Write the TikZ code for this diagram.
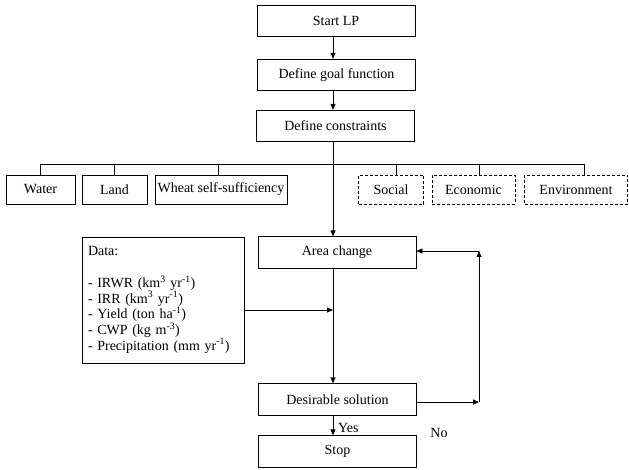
\documentclass[tikz,border=0pt]{standalone}
\usepackage{fontspec}
\setmainfont{Liberation Serif}
\usetikzlibrary{arrows.meta}
\begin{document}
\begin{tikzpicture}[x=1pt,y=-1pt,
  every node/.style={font=\fontsize{14}{15.7}\selectfont},
  box/.style={draw,line width=0.8pt,inner sep=0pt,minimum width=#1},
  mainbox/.style={box=158,minimum height=31.5},
  cbox/.style={box=#1,minimum height=29},
  dbox/.style={cbox=#1,dash pattern=on 3pt off 2pt},
  ln/.style={line width=0.8pt},
  arr/.style={ln,-{Triangle[length=6pt,width=5pt]}}]
\useasboundingbox (0,0) rectangle (629,470);
\coordinate (spine) at (333,0);
% main column
\node[mainbox] (start) at (336,21) {Start LP};
\node[mainbox] (goal) at (336.5,75) {Define goal function};
\node[mainbox] (cons) at (335.5,126) {Define constraints};
\node[mainbox] (area) at (337,252.5) {Area change};
\node[mainbox] (des) at (337.5,399.5) {Desirable solution};
\node[mainbox] (stop) at (337.5,451.5) {Stop};
% constraint boxes
\node[cbox=69] (water) at (40.5,189.5) {Water};
\node[cbox=65] (land) at (114.5,189.5) {Land};
\node[cbox=132] (wheat) at (221,189.5) {Wheat self-sufficiency};
\node[dbox=65] (social) at (391,189.5) {Social};
\node[dbox=83] (econ) at (473.5,189.5) {Economic};
\node[dbox=103] (env) at (576,189.5) {Environment};
% data box
\node[draw,line width=0.8pt,minimum width=162,minimum height=126,text width=150,align=left,inner sep=0pt] (data) at (163,300)
{Data:\\[15.7pt]
- IRWR (km\textsuperscript{3} yr\textsuperscript{-1})\\
- IRR (km\textsuperscript{3} yr\textsuperscript{-1})\\
- Yield (ton ha\textsuperscript{-1})\\
- CWP (kg m\textsuperscript{-3})\\
- Precipitation (mm yr\textsuperscript{-1})};
% coordinates
\coordinate (busL) at (40,164);
\coordinate (busR) at (584,164);
\coordinate (join) at (333,310);
\coordinate (loopB) at (479,402);
\coordinate (loopT) at (479,251);
\coordinate (dropW) at (218,164);
\coordinate (dropS) at (396,164);
\coordinate (dropE) at (479,164);
% connectors
\draw[arr] (start.south -| spine) -- (goal.north -| spine);
\draw[arr] (goal.south -| spine) -- (cons.north -| spine);
\draw[arr] (cons.south -| spine) -- (area.north -| spine);
\draw[ln] (busL) -- (busR);
\draw[ln] (busL) -- (busL |- water.north);
\draw[ln] (land.north |- busL) -- (land.north);
\draw[ln] (dropW) -- (dropW |- wheat.north);
\draw[ln] (dropS) -- (dropS |- social.north);
\draw[ln] (dropE) -- (dropE |- econ.north);
\draw[ln] (busR) -- (busR |- env.north);
\draw[arr] (area.south -| spine) -- (des.north -| spine);
\draw[arr] (data.east |- join) -- (join);
\draw[arr] (des.east |- loopB) -- (loopB);
\draw[arr] (loopB) -- (loopT);
\draw[arr] (loopT) -- (area.east |- loopT);
\draw[arr] (des.south -| spine) -- (stop.north -| spine);
\node[anchor=west,inner sep=0pt] (yes) at (338,428) {Yes};
\node[inner sep=0pt] (no) at (439,433) {No};
\end{tikzpicture}
\end{document}
